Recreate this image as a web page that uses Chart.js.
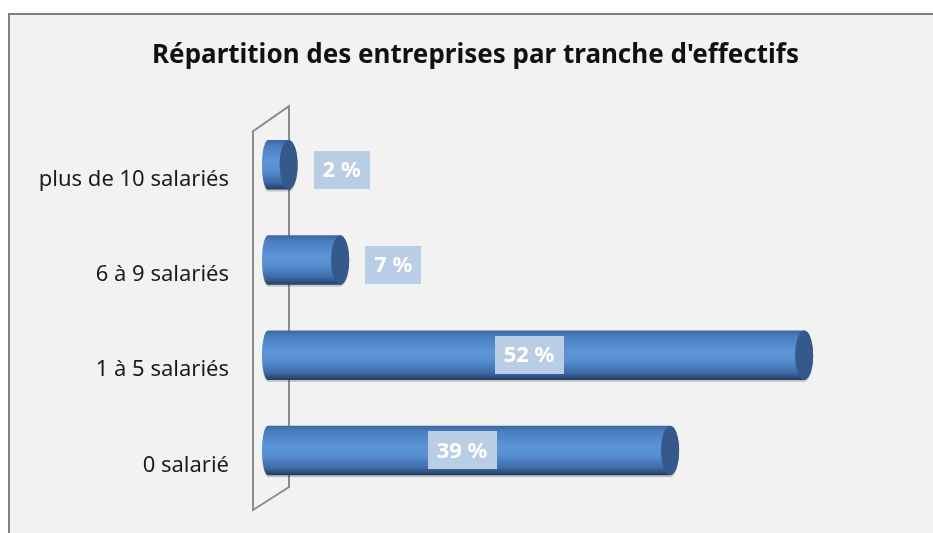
<!DOCTYPE html>
<html lang="fr">
<head>
<meta charset="utf-8">
<title>Répartition des entreprises par tranche d'effectifs</title>
<script src="https://cdn.jsdelivr.net/npm/chart.js@4.4.1/dist/chart.umd.min.js"></script>
<style>
  html, body { margin: 0; padding: 0; background: #ffffff; overflow: hidden; }
  #wrap { position: relative; width: 933px; height: 533px; }
  canvas { display: block; }
</style>
</head>
<body>
<div id="wrap"><canvas id="effectifsChart" width="933" height="533"></canvas></div>
<script>
// Data
const chartTitle = "Répartition des entreprises par tranche d'effectifs";
const categories = ['plus de 10 salariés', '6 à 9 salariés', '1 à 5 salariés', '0 salarié'];
const percentages = [2, 7, 52, 39];
const xMax = 64.5;

// Light grey panel with the grey frame on the left and top
const framePlugin = {
  id: 'frame',
  beforeDraw(chart) {
    const c = chart.ctx;
    c.save();
    c.fillStyle = '#ffffff';
    c.fillRect(0, 0, chart.width, chart.height);
    c.fillStyle = '#f2f2f2';
    c.fillRect(9, 14, chart.width, chart.height);
    c.strokeStyle = '#808080';
    c.lineWidth = 2;
    c.beginPath();
    c.moveTo(9, chart.height + 5);
    c.lineTo(9, 14);
    c.lineTo(chart.width + 5, 14);
    c.stroke();
    c.restore();
  }
};

// The 3D "wall" the bars stand on
const wallPlugin = {
  id: 'wall',
  beforeDatasetsDraw(chart) {
    const { left, top, bottom } = chart.chartArea;
    const c = chart.ctx;
    c.save();
    c.strokeStyle = '#8c8c8c';
    c.lineWidth = 2;
    c.beginPath();
    c.moveTo(left + 21, top - 11);
    c.lineTo(left + 21, bottom - 11);
    c.lineTo(left - 15, bottom + 12);
    c.lineTo(left - 15, top + 14);
    c.closePath();
    c.stroke();
    c.restore();
  }
};

function drawCylinder(c, x0, x1, yc, h) {
  const top = yc - h / 2, bot = yc + h / 2, ry = h / 2;
  const shape = (dy) => {
    c.beginPath();
    c.moveTo(x1, top + dy);
    c.lineTo(x0, top + dy);
    c.ellipse(x0, yc + dy, 6, ry, 0, -Math.PI / 2, Math.PI / 2, true);
    c.lineTo(x1, bot + dy);
    c.ellipse(x1, yc + dy, 9, ry, 0, Math.PI / 2, -Math.PI / 2, true);
    c.closePath();
  };
  // soft shadow
  shape(2);
  c.fillStyle = 'rgba(0,0,0,0.18)';
  c.fill();
  const grad = c.createLinearGradient(0, top, 0, bot);
  grad.addColorStop(0, '#3a67a0');
  grad.addColorStop(0.12, '#4a7ec0');
  grad.addColorStop(0.42, '#5b95d7');
  grad.addColorStop(0.6, '#5690d1');
  grad.addColorStop(0.85, '#3e6ba6');
  grad.addColorStop(1, '#233c63');
  shape(0);
  c.fillStyle = grad;
  c.fill();
  // end cap
  c.beginPath();
  c.ellipse(x1, yc, 9, ry, 0, 0, Math.PI * 2);
  c.fillStyle = '#35598a';
  c.fill();
}

const cylinderPlugin = {
  id: 'cylinders',
  afterDatasetsDraw(chart) {
    const c = chart.ctx;
    const meta = chart.getDatasetMeta(0);
    c.save();
    meta.data.forEach(bar => {
      const { x, y, base, height } = bar.getProps(['x', 'y', 'base', 'height'], true);
      drawCylinder(c, base, x, y, height);
    });
    // value labels
    c.font = 'bold 22px "Noto Sans"';
    c.textAlign = 'center';
    c.textBaseline = 'middle';
    meta.data.forEach((bar, i) => {
      const { x, y, base } = bar.getProps(['x', 'y', 'base'], true);
      const text = percentages[i] + ' %';
      const w = c.measureText(text).width + 18;
      const h = 38;
      let cx, cy;
      if (percentages[i] < 10) {
        cx = x + 9 + 16 + w / 2;
        cy = y + 5;
      } else {
        cx = (base + x) / 2 - 7;
        cy = y;
      }
      c.fillStyle = '#b9cde5';
      c.fillRect(Math.round(cx - w / 2), Math.round(cy - h / 2), Math.round(w), h);
      c.fillStyle = '#ffffff';
      c.fillText(text, cx, cy + 1);
    });
    c.restore();
  }
};

new Chart(document.getElementById('effectifsChart'), {
  type: 'bar',
  data: {
    labels: categories,
    datasets: [{
      data: percentages,
      backgroundColor: 'rgba(0,0,0,0)',
      borderWidth: 0,
      barPercentage: 0.52,
      categoryPercentage: 1
    }]
  },
  options: {
    indexAxis: 'y',
    responsive: false,
    devicePixelRatio: 1,
    animation: false,
    layout: {
      padding: { left: 18, right: 0, top: 0, bottom: 35 }
    },
    plugins: {
      legend: { display: false },
      tooltip: { enabled: false },
      title: {
        display: true,
        text: chartTitle,
        color: '#111111',
        font: { family: '"Noto Sans"', size: 26, weight: 'bold' },
        padding: { top: 40, bottom: 46 }
      }
    },
    scales: {
      x: {
        display: false,
        min: 0,
        max: xMax
      },
      y: {
        grid: { display: false, drawTicks: false },
        border: { display: false },
        afterFit(scale) {
          scale.width = 250;
          scale.paddingTop = 0;
          scale.paddingBottom = 0;
        },
        ticks: {
          padding: 39,
          labelOffset: 15,
          color: '#1a1a1a',
          font: { family: '"Noto Sans"', size: 22 }
        }
      }
    }
  },
  plugins: [framePlugin, wallPlugin, cylinderPlugin]
});
</script>
</body>
</html>
